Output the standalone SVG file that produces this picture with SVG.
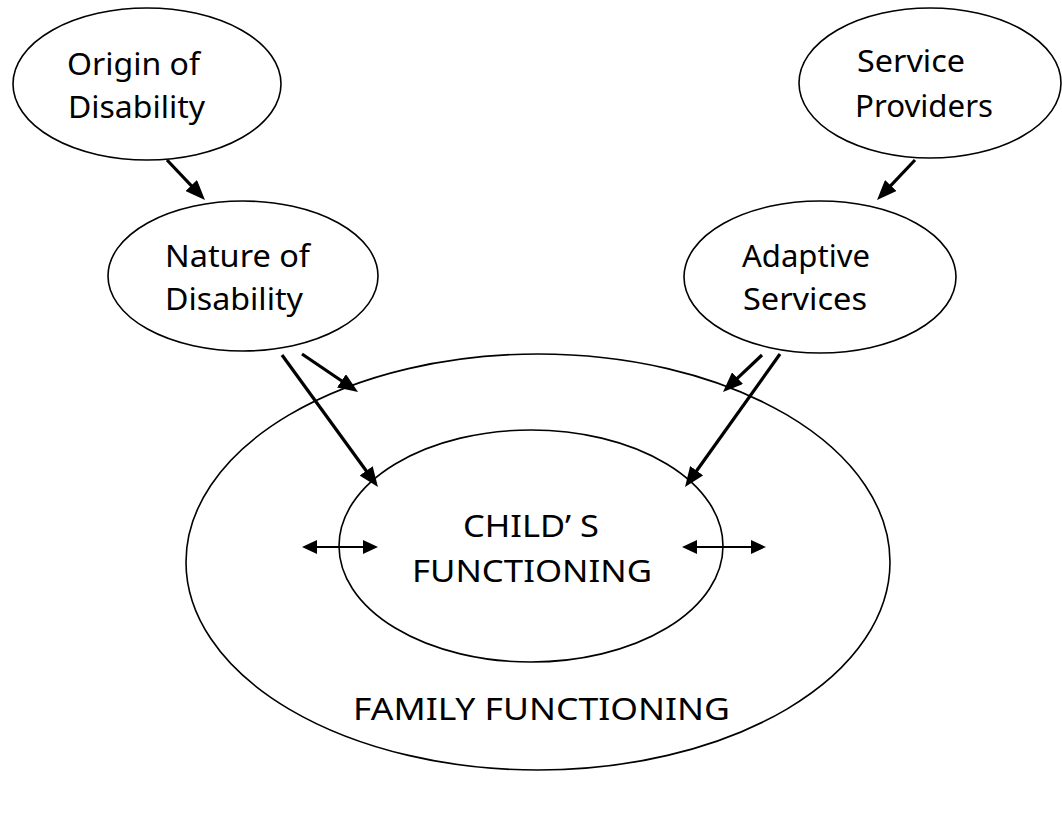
<svg xmlns="http://www.w3.org/2000/svg" width="1062" height="814" viewBox="0 0 1062 814">
<style>
.n{fill:#fff;stroke:#000;stroke-width:1.6}
.o{fill:none;stroke:#000;stroke-width:1.6}
.t{font-family:"Noto Sans","Open Sans",sans-serif;font-size:31px;fill:#000}
.a{stroke:#000;stroke-width:3.2;fill:none;marker-end:url(#ah)}
.d{stroke:#000;stroke-width:1.8;fill:none;marker-start:url(#dh);marker-end:url(#dh)}
</style>
<defs>
<marker id="ah" markerUnits="userSpaceOnUse" markerWidth="20" markerHeight="16" refX="8" refY="8" orient="auto"><path d="M0,0 L20,8 L0,16 z" fill="#000"/></marker>
<marker id="dh" markerUnits="userSpaceOnUse" markerWidth="15" markerHeight="14" refX="4" refY="7" orient="auto-start-reverse"><path d="M0,0 L15,7 L0,14 z" fill="#000"/></marker>
</defs>
<rect width="1062" height="814" fill="#fff"/>
<g id="family">
<ellipse class="o" cx="538" cy="562" rx="352" ry="208"/>
<text class="t" x="353" y="720" textLength="377" lengthAdjust="spacingAndGlyphs">FAMILY FUNCTIONING</text>
</g>
<g id="child">
<ellipse class="o" cx="531" cy="546" rx="192" ry="116"/>
<text class="t" x="463" y="537" textLength="136" lengthAdjust="spacingAndGlyphs">CHILD’ S</text>
<text class="t" x="412" y="582" textLength="240" lengthAdjust="spacingAndGlyphs">FUNCTIONING</text>
</g>
<g id="origin">
<ellipse class="n" cx="147" cy="84" rx="134" ry="76"/>
<text class="t" x="67" y="75" textLength="133" lengthAdjust="spacingAndGlyphs">Origin of</text>
<text class="t" x="68" y="118" textLength="137" lengthAdjust="spacingAndGlyphs">Disability</text>
</g>
<g id="service">
<ellipse class="n" cx="930" cy="83" rx="131" ry="75"/>
<text class="t" x="857" y="72" textLength="108" lengthAdjust="spacingAndGlyphs">Service</text>
<text class="t" x="855" y="117" textLength="138" lengthAdjust="spacingAndGlyphs">Providers</text>
</g>
<g id="nature">
<ellipse class="n" cx="243" cy="276" rx="135" ry="75"/>
<text class="t" x="165" y="267" textLength="145" lengthAdjust="spacingAndGlyphs">Nature of</text>
<text class="t" x="165" y="310" textLength="138" lengthAdjust="spacingAndGlyphs">Disability</text>
</g>
<g id="adaptive">
<ellipse class="n" cx="820" cy="277" rx="136" ry="76"/>
<text class="t" x="742" y="267" textLength="128" lengthAdjust="spacingAndGlyphs">Adaptive</text>
<text class="t" x="743" y="310" textLength="124" lengthAdjust="spacingAndGlyphs">Services</text>
</g>
<g id="connectors">
<line class="a" x1="167" y1="160" x2="196.7" y2="191.3"/>
<line class="a" x1="915" y1="160" x2="885.3" y2="191.3"/>
<line class="a" x1="302" y1="354" x2="348.1" y2="385.3"/>
<line class="a" x1="282" y1="355" x2="370.9" y2="477.3"/>
<line class="a" x1="762" y1="355" x2="731.7" y2="383.7"/>
<line class="a" x1="780" y1="354" x2="692" y2="477.2"/>
<line class="d" x1="313" y1="547" x2="367" y2="547"/>
<line class="d" x1="693" y1="547" x2="755" y2="547"/>
</g>
</svg>
